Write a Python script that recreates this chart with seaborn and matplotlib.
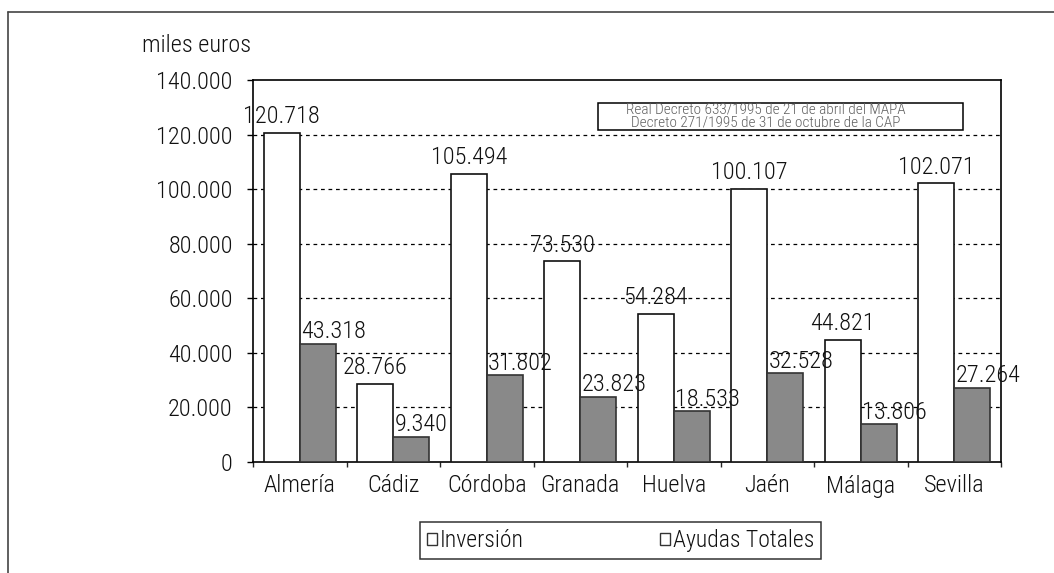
import matplotlib
matplotlib.use("Agg")
import matplotlib.pyplot as plt
from matplotlib import font_manager
from matplotlib.patches import Patch, Rectangle
from matplotlib.lines import Line2D
from matplotlib.ticker import FuncFormatter, FixedLocator
import seaborn as sns
import pandas as pd

# ---- data ----
provincias = ["Almería", "Cádiz", "Córdoba", "Granada", "Huelva", "Jaén", "Málaga", "Sevilla"]
inversion = [120718, 28766, 105494, 73530, 54284, 100107, 44821, 102071]
ayudas = [43318, 9340, 31802, 23823, 18533, 32528, 13806, 27264]
series = ["Inversión", "Ayudas Totales"]
y_ticks = [0, 20000, 40000, 60000, 80000, 100000, 120000, 140000]
nota = "Real Decreto 633/1995 de 21 de abril del MAPA\nDecreto 271/1995 de 31 de octubre de la CAP"
unidad = "miles euros"

df = pd.DataFrame({
    "provincia": provincias * 2,
    "serie": [series[0]] * len(provincias) + [series[1]] * len(provincias),
    "valor": inversion + ayudas,
})

sns.set_theme(style="white")
fl = font_manager.fontManager.ttflist
names = {f.name for f in fl}
weight = "normal"
if "Roboto Condensed" in names:
    main_font = ["Roboto Condensed", "DejaVu Sans"]
    fs = 17.5
    weight = "light"
elif "Liberation Sans Narrow" in names:
    main_font = ["Liberation Sans Narrow", "DejaVu Sans"]
    fs = 18
else:
    main_font = ["Roboto", "DejaVu Sans"]
    fs = 15
plt.rcParams["font.family"] = main_font
plt.rcParams["font.weight"] = weight

W, H = 1054, 573
fig = plt.figure(figsize=(W / 100, H / 100), dpi=100)
fig.patch.set_facecolor("white")
ax = fig.add_axes([253 / W, 1 - 462 / H, (1001 - 253) / W, (462 - 80) / H])

gray = "#898989"
sns.barplot(data=df, x="provincia", y="valor", hue="serie", hue_order=series,
            order=provincias, palette={series[0]: "white", series[1]: gray},
            width=0.77, gap=0, legend=False, ax=ax, zorder=3)

edge_cols = ["#111111", "#333333"]
for cont, ec in zip(ax.containers, edge_cols):
    for bar in cont:
        bar.set_edgecolor(ec)
        bar.set_linewidth(1.2)

# value labels
fmt = lambda v: f"{v:,.0f}".replace(",", ".")
for i, cont in enumerate(ax.containers):
    for bar in cont:
        h = bar.get_height()
        if i == 0:
            ax.annotate(fmt(h), (bar.get_x() + bar.get_width() / 2, h), xytext=(0, 7),
                        textcoords="offset points", ha="center", va="baseline",
                        fontsize=fs, color="#111111", zorder=5, annotation_clip=False)
        else:
            ax.annotate(fmt(h), (bar.get_x(), h), xytext=(1, 4),
                        textcoords="offset points", ha="left", va="baseline",
                        fontsize=fs, color="#111111", zorder=5, annotation_clip=False)

ax.set_ylim(0, 140000)
ax.set_xlim(-0.5, len(provincias) - 0.5)
ax.yaxis.set_major_locator(FixedLocator(y_ticks))
ax.yaxis.set_major_formatter(FuncFormatter(lambda v, p: fmt(v)))
ax.set_xlabel("")
ax.set_ylabel("")

# grid
for yv in y_ticks[1:-1]:
    ax.axhline(yv, color="black", lw=0.9, ls=(0, (3, 3)), zorder=1)

for s in ax.spines.values():
    s.set_visible(True)
    s.set_color("black")
    s.set_linewidth(1.2)

ax.tick_params(axis="y", which="major", direction="out", length=4.5, width=1,
               pad=10, labelsize=fs, colors="black", left=True)
ax.set_xticks(range(len(provincias)))
ax.set_xticklabels(provincias)
ax.tick_params(axis="x", which="major", length=0, pad=9, labelsize=fs, colors="black")
ax.set_xticks([i - 0.5 for i in range(len(provincias) + 1)], minor=True)
ax.tick_params(axis="x", which="minor", direction="out", length=3.5, width=1, bottom=True)
for lab in ax.get_yticklabels() + ax.get_xticklabels():
    lab.set_color("#111111")

# unit label
fig.text(142 / W, 1 - 52 / H, unidad, fontsize=fs, ha="left", va="baseline", color="#111111")

# note box
bx0, bx1, by0, by1 = 598, 963, 103, 130
fig.patches.append(Rectangle((bx0 / W, 1 - by1 / H), (bx1 - bx0) / W, (by1 - by0) / H,
                             transform=fig.transFigure, fc="white", ec="black", lw=1.1, zorder=6))
fig.text(766 / W, 1 - (by0 + by1) / 2 / H + 0.001, nota, fontsize=11,
         ha="center", va="center", color="#606060", linespacing=0.9, zorder=7)

# legend
handles = [Patch(facecolor="white", edgecolor="#333333", lw=1.0, label=s) for s in series]
leg = fig.legend(handles=handles, loc="center", ncol=2,
                 bbox_to_anchor=(620.5 / W, 1 - 540.5 / H), frameon=True, fancybox=False,
                 edgecolor="black", fontsize=fs - 0.5, handlelength=0.4, handleheight=0.4,
                 handletextpad=0.12, columnspacing=5.8, borderpad=0.3, borderaxespad=0)
leg.get_frame().set_linewidth(1.1)
for t in leg.get_texts():
    t.set_color("#111111")

# outer frame (left and top)
fig.add_artist(Line2D([8 / W, 8 / W], [0, 1 - 12 / H], transform=fig.transFigure,
                      color="#444444", lw=1.2))
fig.add_artist(Line2D([8 / W, 1], [1 - 12 / H, 1 - 12 / H], transform=fig.transFigure,
                      color="#444444", lw=1.2))

fig.savefig("out.png", dpi=100, facecolor="white")
